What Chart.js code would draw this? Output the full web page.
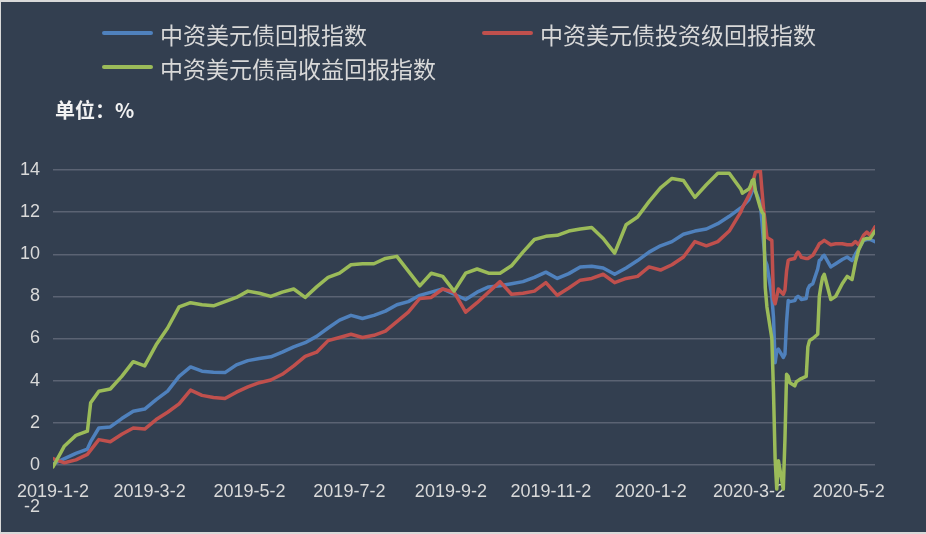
<!DOCTYPE html>
<html>
<head>
<meta charset="utf-8">
<script src="https://cdn.jsdelivr.net/npm/chart.js@4.4.1/dist/chart.umd.min.js"></script>
<style>
  html, body { margin: 0; padding: 0; background: #d9d9d9; }
  #chart { display: block; }
</style>
</head>
<body>
<canvas id="chart" width="926" height="534"></canvas>
<script>
// 数据（单位：%）
const seriesNames = ['中资美元债回报指数', '中资美元债投资级回报指数', '中资美元债高收益回报指数'];

const dates = [
  '2019-01-02','2019-01-09','2019-01-16','2019-01-23','2019-01-25','2019-01-30',
  '2019-02-06','2019-02-13','2019-02-20','2019-02-27',
  '2019-03-06','2019-03-13','2019-03-20','2019-03-27',
  '2019-04-03','2019-04-10','2019-04-17','2019-04-24',
  '2019-05-01','2019-05-08','2019-05-15','2019-05-22','2019-05-29',
  '2019-06-05','2019-06-12','2019-06-19','2019-06-26',
  '2019-07-03','2019-07-10','2019-07-17','2019-07-24','2019-07-31',
  '2019-08-07','2019-08-14','2019-08-21','2019-08-28',
  '2019-09-04','2019-09-11','2019-09-18','2019-09-25',
  '2019-10-02','2019-10-09','2019-10-16','2019-10-23','2019-10-30',
  '2019-11-06','2019-11-13','2019-11-20','2019-11-27',
  '2019-12-04','2019-12-11','2019-12-18','2019-12-25',
  '2020-01-01','2020-01-08','2020-01-15','2020-01-22','2020-01-29',
  '2020-02-05','2020-02-12','2020-02-19','2020-02-26','2020-02-27','2020-02-28',
  '2020-03-02','2020-03-03','2020-03-04','2020-03-05','2020-03-06',
  '2020-03-09','2020-03-10','2020-03-11','2020-03-12','2020-03-13',
  '2020-03-16','2020-03-17','2020-03-18','2020-03-19','2020-03-20',
  '2020-03-23','2020-03-24','2020-03-25','2020-03-26','2020-03-27',
  '2020-03-30','2020-03-31','2020-04-01','2020-04-02','2020-04-03',
  '2020-04-06','2020-04-07','2020-04-08','2020-04-09','2020-04-10',
  '2020-04-13','2020-04-14','2020-04-15','2020-04-16','2020-04-17',
  '2020-04-21','2020-04-24','2020-04-28','2020-05-01',
  '2020-05-04','2020-05-06','2020-05-08','2020-05-11','2020-05-13','2020-05-15','2020-05-18'
];

// 中资美元债回报指数
const totalIndex = [
  0.05, 0.3, 0.55, 0.75, 1.1, 1.75,
  1.8, 2.2, 2.55, 2.65,
  3.1, 3.5, 4.2, 4.65,
  4.45, 4.4, 4.38, 4.75,
  4.95, 5.05, 5.13, 5.35, 5.6,
  5.8, 6.1, 6.5, 6.87,
  7.1, 6.95, 7.1, 7.3, 7.6,
  7.75, 8.05, 8.2, 8.35,
  8.1, 7.85, 8.2, 8.45,
  8.5, 8.6, 8.7, 8.9, 9.15,
  8.85, 9.08, 9.4, 9.43,
  9.35, 9.05, 9.35, 9.7,
  10.1, 10.4, 10.6, 10.95, 11.1,
  11.2, 11.45, 11.8, 12.2, 12.25, 12.35,
  12.6, 12.8, 13.0, 13.2, 13.0,
  12.4, 11.5, 10.5, 9.7, 9.5,
  8.0, 7.0, 4.85, 5.4, 5.5,
  5.1, 5.25, 6.8, 7.8, 7.75,
  7.8, 7.95, 8.0, 7.95, 7.85,
  7.9, 8.35, 8.5, 8.55, 8.6,
  9.3, 9.7, 9.75, 9.9, 9.95,
  9.4, 9.55, 9.75, 9.87,
  9.7, 10.0, 10.25, 10.65, 10.7, 10.7, 10.6
];

// 中资美元债投资级回报指数
const igIndex = [
  0.3, 0.1, 0.24, 0.5, 0.7, 1.2,
  1.1, 1.45, 1.75, 1.7,
  2.15, 2.5, 2.9, 3.55,
  3.3, 3.2, 3.15, 3.45,
  3.7, 3.9, 4.03, 4.3, 4.7,
  5.15, 5.35, 5.9, 6.05,
  6.2, 6.05, 6.15, 6.35, 6.8,
  7.25, 7.9, 7.95, 8.35,
  8.2, 7.25, 7.7, 8.2,
  8.7, 8.1, 8.15, 8.25, 8.65,
  8.05, 8.4, 8.77, 8.85,
  9.05, 8.65, 8.85, 8.95,
  9.4, 9.25, 9.5, 9.87, 10.6,
  10.4, 10.6, 11.1, 12.0, 12.2, 12.35,
  12.8, 12.95, 13.3, 13.6, 13.9,
  13.95, 13.0, 12.1, 11.5, 10.8,
  10.65, 7.9, 7.65, 8.0, 8.35,
  8.1, 8.3, 9.2, 9.7, 9.75,
  9.8, 10.0, 10.1, 10.0, 9.85,
  9.8, 9.8, 9.85, 9.9, 9.95,
  10.35, 10.5, 10.55, 10.6, 10.66,
  10.45, 10.5, 10.5, 10.45,
  10.45, 10.6, 10.45, 10.9, 11.05, 10.9, 11.3
];

// 中资美元债高收益回报指数
const hyIndex = [
  -0.1, 0.9, 1.4, 1.6, 2.95, 3.5,
  3.6, 4.2, 4.9, 4.7,
  5.7, 6.5, 7.5, 7.7,
  7.6, 7.55, 7.75, 7.95,
  8.25, 8.15, 8.0, 8.2, 8.35,
  7.95, 8.45, 8.9, 9.1,
  9.5, 9.55, 9.55, 9.8, 9.9,
  9.2, 8.5, 9.1, 8.95,
  8.25, 9.1, 9.3, 9.1,
  9.1, 9.45, 10.1, 10.7, 10.85,
  10.9, 11.1, 11.2, 11.27,
  10.75, 10.05, 11.4, 11.77,
  12.5, 13.15, 13.6, 13.5, 12.7,
  13.3, 13.85, 13.85, 13.1, 12.9, 12.95,
  13.1, 13.25, 13.5, 13.55, 13.0,
  12.2, 12.0, 11.9, 8.4, 7.5,
  6.0, 3.5, 0.3, -1.15, 0.2,
  -1.15, 1.2, 4.3, 4.2, 3.9,
  3.75, 3.95, 4.0, 4.05, 4.1,
  4.2, 5.6, 5.9, 5.95, 6.0,
  6.2, 8.0, 8.5, 8.9, 9.05,
  7.85, 8.0, 8.6, 8.95,
  8.8, 9.6, 10.2, 10.7, 10.75, 10.75, 11.1
];

const tickLabels = ['2019-1-2', '2019-3-2', '2019-5-2', '2019-7-2', '2019-9-2', '2019-11-2', '2020-1-2', '2020-3-2', '2020-5-2'];
const yTicks = [-2, 0, 2, 4, 6, 8, 10, 12, 14];

const seriesColors = ['#4f81bd', '#c0504d', '#9bbb59'];

// 日期 -> 距 2019-1-2 的天数
function toDay(s) {
  const p = s.split('-').map(Number);
  return (Date.UTC(p[0], p[1] - 1, p[2]) - Date.UTC(2019, 0, 2)) / 86400000;
}
const xDays = dates.map(toDay);
const tickDays = tickLabels.map(toDay);

function pontos(vals) {
  return vals.map((v, i) => ({ x: xDays[i], y: v }));
}

const textColor = '#d9d9d9';
const gridColor = '#5b6373';

const decor = {
  id: 'decor',
  beforeDraw(chart) {
    const ctx = chart.ctx;
    ctx.save();
    ctx.fillStyle = '#333f50';
    ctx.fillRect(1, 2, 925, 530);
    ctx.restore();
  },
  afterDraw(chart) {
    const ctx = chart.ctx;
    const spots = [[103, 33], [483, 33], [103, 67]];
    ctx.save();
    chart.data.datasets.forEach((ds, i) => {
      const [x, y] = spots[i];
      ctx.strokeStyle = ds.borderColor;
      ctx.lineWidth = 4;
      ctx.lineCap = 'round';
      ctx.beginPath();
      ctx.moveTo(x + 1, y);
      ctx.lineTo(x + 48, y);
      ctx.stroke();
      ctx.fillStyle = textColor;
      ctx.font = '23px "Noto Sans CJK SC"';
      ctx.textBaseline = 'middle';
      ctx.textAlign = 'left';
      ctx.fillText(ds.label, x + 57, y + 2);
    });
    ctx.fillStyle = '#f2f2f2';
    ctx.font = 'bold 20px "Noto Sans CJK SC"';
    ctx.textBaseline = 'middle';
    ctx.fillText('单位：%', 55, 110);
    ctx.restore();
  }
};

new Chart(document.getElementById('chart').getContext('2d'), {
  type: 'line',
  data: {
    datasets: [
      { label: seriesNames[0], data: pontos(totalIndex), borderColor: seriesColors[0], order: 2 },
      { label: seriesNames[1], data: pontos(igIndex), borderColor: seriesColors[1], order: 1 },
      { label: seriesNames[2], data: pontos(hyIndex), borderColor: seriesColors[2], order: 0 }
    ]
  },
  options: {
    responsive: false,
    animation: false,
    events: [],
    layout: { padding: { top: 170, left: 13, right: 51, bottom: 27 } },
    elements: {
      line: { borderWidth: 3.5, tension: 0, borderJoinStyle: 'round', borderCapStyle: 'round' },
      point: { radius: 0 }
    },
    plugins: { legend: { display: false }, tooltip: { enabled: false } },
    scales: {
      x: {
        type: 'linear',
        position: { y: 0 },
        min: 0,
        max: toDay('2020-05-18'),
        afterBuildTicks: s => { s.ticks = tickDays.map(v => ({ value: v })); },
        ticks: {
          color: textColor,
          font: { family: 'Liberation Sans', size: 18 },
          maxRotation: 0,
          autoSkip: false,
          padding: 8,
          callback: v => tickLabels[tickDays.indexOf(v)]
        },
        grid: { display: false },
        border: { display: false }
      },
      y: {
        min: -2,
        max: 14,
        afterFit: s => { s.width = 40; },
        afterBuildTicks: s => { s.ticks = yTicks.map(v => ({ value: v })); },
        ticks: {
          color: textColor,
          font: { family: 'Liberation Sans', size: 18 },
          padding: 13
        },
        grid: {
          drawTicks: false,
          lineWidth: 1.5,
          color: c => (c.tick && c.tick.value === -2 ? 'rgba(0,0,0,0)' : gridColor)
        },
        border: { display: false }
      }
    }
  },
  plugins: [decor]
});
</script>
</body>
</html>
